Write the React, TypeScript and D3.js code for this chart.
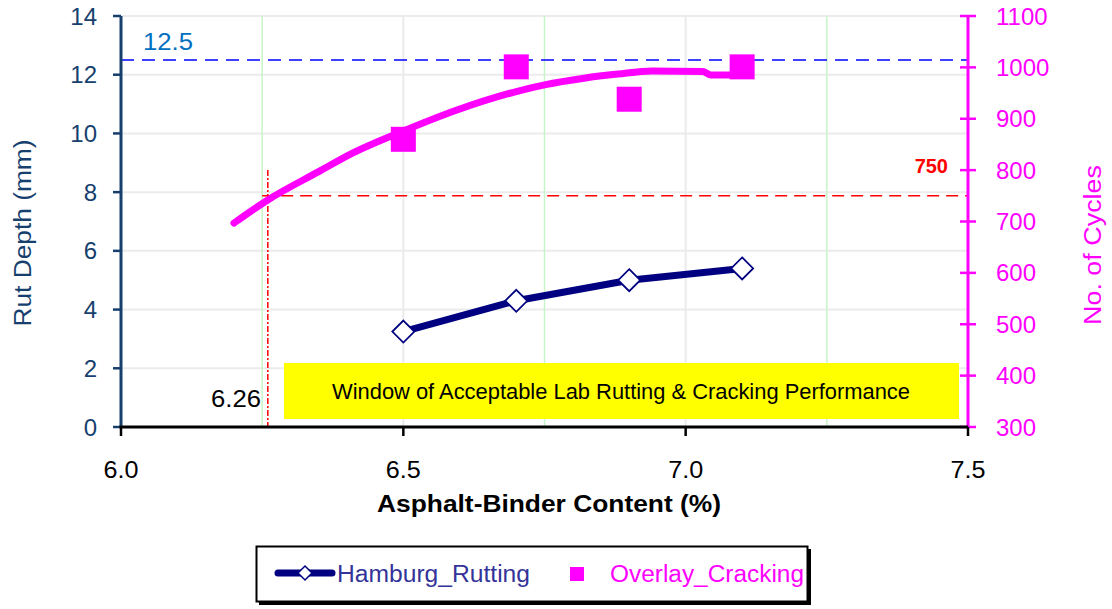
import React from "react";
import * as d3 from "d3";

const binderContent = [6.5, 6.7, 6.9, 7.1];
const rutDepth = [3.25, 4.3, 5.0, 5.4];
const crackCycles = [860, 1001, 938, 1001];
const trendX = [6.2, 6.26, 6.35, 6.41, 6.5, 6.59, 6.7, 6.75, 6.82, 6.88, 6.94, 7.03, 7.045, 7.1];
const trendCycles = [697, 742, 797, 833, 876, 915, 953, 966, 979, 987, 993, 992, 985, 985];
const xTicks = [6.0, 6.5, 7.0, 7.5];
const leftTicks = [0, 2, 4, 6, 8, 10, 12, 14];
const rightTicks = [300, 400, 500, 600, 700, 800, 900, 1000, 1100];
const grayVLines = [6.5, 7.0];
const greenVLines = [6.25, 6.75, 7.25];
const rutLimit = 12.5;
const crackLimit = 750;
const optimumBinder = 6.26;
const windowLabel = "Window  of Acceptable Lab Rutting & Cracking Performance";

const FONT = "'Liberation Sans', Arial, sans-serif";

export default function App() {
  const x = d3.scaleLinear().domain([6, 7.5]).range([121, 968]);
  const yL = d3.scaleLinear().domain([0, 14]).range([427, 16]);
  const yR = d3.scaleLinear().domain([300, 1100]).range([427, 16]);

  const rutLine = d3
    .line<number>()
    .x((_, i) => x(binderContent[i]))
    .y((d) => yL(d))(rutDepth) as string;

  const trendLine = d3
    .line<number>()
    .curve(d3.curveMonotoneX)
    .x((_, i) => x(trendX[i]))
    .y((d) => yR(d))(trendCycles) as string;

  const axisNavy = "#173f6e";
  const magenta = "#ff00ff";
  const x0 = x(6), x1 = x(7.5);

  const diamond = (cx: number, cy: number, r: number) =>
    `M${cx},${cy - r}L${cx + r},${cy}L${cx},${cy + r}L${cx - r},${cy}Z`;

  return (
    <svg
      width={1112}
      height={609}
      style={{ position: "absolute", left: 0, top: 0, background: "#fff" }}
      fontFamily={FONT}
    >
      {/* gridlines */}
      {leftTicks.map((t) => (
        <line key={"hg" + t} x1={x0} x2={x1} y1={yL(t)} y2={yL(t)} stroke="#ebebeb" strokeWidth={2} />
      ))}
      {grayVLines.map((v) => (
        <line key={"gv" + v} x1={x(v)} x2={x(v)} y1={yL(14)} y2={yL(0)} stroke="#ebebeb" strokeWidth={2} />
      ))}
      {greenVLines.map((v) => (
        <line key={"gg" + v} x1={x(v)} x2={x(v)} y1={yL(14)} y2={yL(0)} stroke="#c8f5c8" strokeWidth={1.5} />
      ))}

      {/* yellow window */}
      <rect x={284} y={363} width={675} height={56} fill="#ffff00" />
      <text
        x={621}
        y={399}
        fontSize={22}
        textAnchor="middle"
        fill="#000"
        textLength={578}
        lengthAdjust="spacingAndGlyphs"
      >
        {windowLabel}
      </text>

      {/* rut limit line */}
      <line x1={x0} x2={x1} y1={yL(rutLimit)} y2={yL(rutLimit)} stroke="#0000ff" strokeWidth={1.5} strokeDasharray="13,8" />
      <text x={143} y={50} fontSize={23} fill="#0070c0" textLength={50} lengthAdjust="spacingAndGlyphs">
        {rutLimit}
      </text>

      {/* crack limit line */}
      <line x1={x(6.25)} x2={x1} y1={yR(crackLimit)} y2={yR(crackLimit)} stroke="#ff0000" strokeWidth={1.5} strokeDasharray="12,7" />
      <text x={948} y={173} fontSize={20} fontWeight="bold" fill="#ff0000" textAnchor="end">
        {crackLimit}
      </text>
      <line
        x1={x(optimumBinder)}
        x2={x(optimumBinder)}
        y1={170}
        y2={yL(0)}
        stroke="#ff0000"
        strokeWidth={1.5}
        strokeDasharray="6,2,2,2"
      />
      <text x={261} y={407} fontSize={23} fill="#000" textAnchor="end" textLength={50} lengthAdjust="spacingAndGlyphs">
        {optimumBinder}
      </text>

      {/* trend curve */}
      <path d={trendLine} fill="none" stroke={magenta} strokeWidth={7} strokeLinecap="round" strokeLinejoin="round" />
      {crackCycles.map((c, i) => (
        <rect key={"sq" + i} x={x(binderContent[i]) - 12.5} y={yR(c) - 12.5} width={25} height={25} fill={magenta} />
      ))}

      {/* rutting */}
      <path d={rutLine} fill="none" stroke="#000080" strokeWidth={7} strokeLinejoin="round" />
      {rutDepth.map((r, i) => (
        <path key={"dm" + i} d={diamond(x(binderContent[i]), yL(r), 11)} fill="#fff" stroke="#000080" strokeWidth={1.8} />
      ))}

      {/* left axis */}
      <line x1={x0} x2={x0} y1={yL(14)} y2={yL(0)} stroke={axisNavy} strokeWidth={3} />
      {leftTicks.map((t) => (
        <g key={"lt" + t}>
          <line x1={x0 - 8} x2={x0} y1={yL(t)} y2={yL(t)} stroke={axisNavy} strokeWidth={2.5} />
          <text x={97} y={yL(t) + 8.5} fontSize={24} fill={axisNavy} textAnchor="end">
            {t}
          </text>
        </g>
      ))}
      <text
        transform={`translate(31,${233}) rotate(-90)`}
        fontSize={23}
        fill={axisNavy}
        textAnchor="middle"
        textLength={187}
        lengthAdjust="spacingAndGlyphs"
      >
        Rut Depth (mm)
      </text>

      {/* right axis */}
      <line x1={x1} x2={x1} y1={yR(1100)} y2={yR(300)} stroke={magenta} strokeWidth={3} />
      {rightTicks.map((t) => (
        <g key={"rt" + t}>
          <line x1={x1 - 8} x2={x1 + 8} y1={yR(t)} y2={yR(t)} stroke={magenta} strokeWidth={2.5} />
          <text x={996} y={yR(t) + 8.5} fontSize={24} fill={magenta}>
            {t}
          </text>
        </g>
      ))}
      <text
        transform={`translate(1101,${245}) rotate(-90)`}
        fontSize={23}
        fill={magenta}
        textAnchor="middle"
        textLength={160}
        lengthAdjust="spacingAndGlyphs"
      >
        No. of Cycles
      </text>

      {/* x axis */}
      <line x1={x0 - 1.5} x2={x1} y1={yL(0)} y2={yL(0)} stroke="#000" strokeWidth={3} />
      {xTicks.map((t) => (
        <g key={"xt" + t}>
          <line x1={x(t)} x2={x(t)} y1={yL(0)} y2={yL(0) + 9} stroke="#000" strokeWidth={2.5} />
          <text x={x(t)} y={478} fontSize={23} fill="#000" textAnchor="middle" textLength={35} lengthAdjust="spacingAndGlyphs">
            {t.toFixed(1)}
          </text>
        </g>
      ))}
      <text x={549} y={512} fontSize={23} fontWeight="bold" fill="#000" textAnchor="middle" textLength={344} lengthAdjust="spacingAndGlyphs">
        Asphalt-Binder  Content  (%)
      </text>

      {/* legend */}
      <rect x={259} y={549} width={552} height={56} fill="#000" />
      <rect x={256.5} y={546.5} width={551} height={55} fill="#fff" stroke="#000" strokeWidth={2} />
      <line x1={278} x2={332} y1={573} y2={573} stroke="#000080" strokeWidth={7} strokeLinecap="round" />
      <path d={diamond(305, 573, 7)} fill="#fff" stroke="#000080" strokeWidth={1.5} />
      <text x={337} y={582} fontSize={23} fill="#333399" textLength={193} lengthAdjust="spacingAndGlyphs">
        Hamburg_Rutting
      </text>
      <rect x={570} y={567} width={14} height={14} fill={magenta} />
      <text x={610} y={582} fontSize={23} fill={magenta} textLength={194} lengthAdjust="spacingAndGlyphs">
        Overlay_Cracking
      </text>
    </svg>
  );
}
